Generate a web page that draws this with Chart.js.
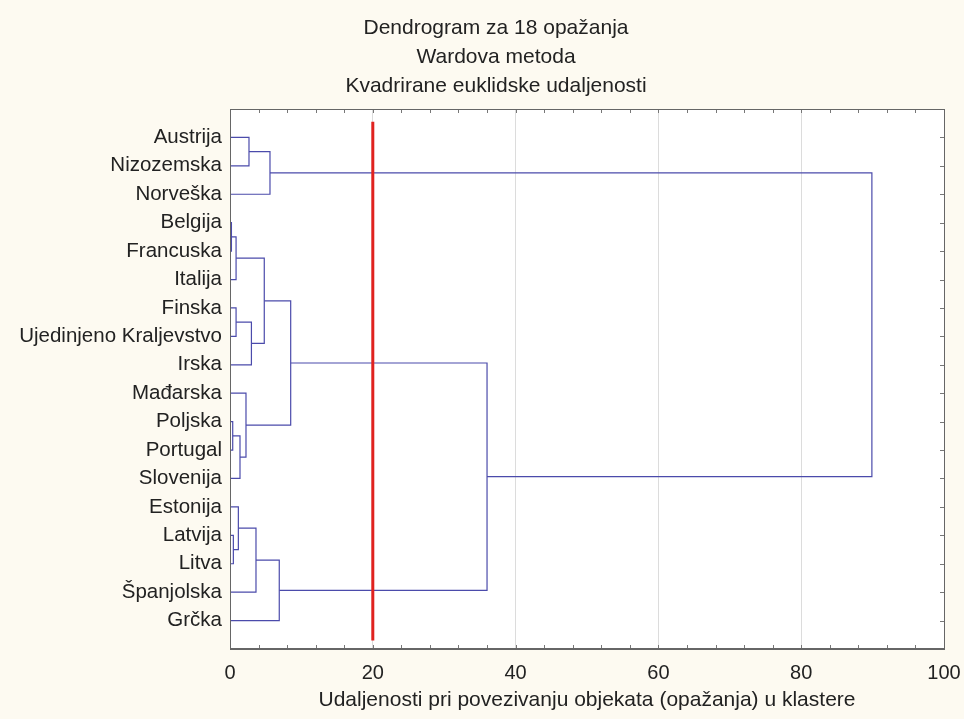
<!DOCTYPE html>
<html>
<head>
<meta charset="utf-8">
<script src="https://cdn.jsdelivr.net/npm/chart.js@4.4.0/dist/chart.umd.min.js"></script>
<style>
  body { margin: 0; background: #fdfaf1; }
  #wrap { width: 964px; height: 719px; }
</style>
</head>
<body>
<div id="wrap"><canvas id="dendroChart" width="964" height="719"></canvas></div>
<script>
const titleLines = ['Dendrogram za 18 opažanja', 'Wardova metoda', 'Kvadrirane euklidske udaljenosti'];
const axisTitle = 'Udaljenosti pri povezivanju objekata (opažanja) u klastere';

const leaves = ['Austrija', 'Nizozemska', 'Norveška', 'Belgija', 'Francuska', 'Italija',
    'Finska', 'Ujedinjeno Kraljevstvo', 'Irska', 'Mađarska', 'Poljska', 'Portugal',
    'Slovenija', 'Estonija', 'Latvija', 'Litva', 'Španjolska', 'Grčka'];

// merge steps: ids >= 18 point at earlier merges (18 = first merge, 19 = second...)
const mergeA = [3, 10, 14, 6, 18, 13, 19, 9, 0, 21, 23, 22, 26, 28, 29, 32, 30];
const mergeB = [4, 11, 15, 7, 5, 20, 12, 24, 1, 8, 16, 27, 2, 17, 25, 31, 33];
const mergeHeight = [0.2, 0.38, 0.47, 0.85, 0.85, 1.17, 1.4, 2.24, 2.66, 3.0, 3.64, 4.8, 5.6, 6.9, 8.5, 36.0, 89.9];

const xTicks = [0, 20, 40, 60, 80, 100];
const cutLevel = 20;
const cutSpan = [0.45, 18.7];

const font = '"Liberation Sans", Arial, sans-serif';
const lineColor = '#4b4bab';

// build the U-shaped links
const nodeY = leaves.map((_, i) => i + 1);
const nodeH = leaves.map(() => 0);
const links = [];
mergeHeight.forEach((h, k) => {
    const a = mergeA[k], b = mergeB[k];
    links.push([
        { x: nodeH[a], y: nodeY[a] },
        { x: h, y: nodeY[a] },
        { x: h, y: nodeY[b] },
        { x: nodeH[b], y: nodeY[b] }
    ]);
    nodeY.push((nodeY[a] + nodeY[b]) / 2);
    nodeH.push(h);
});

const datasets = [{
    data: [{ x: cutLevel, y: cutSpan[0] }, { x: cutLevel, y: cutSpan[1] }],
    borderColor: '#e0221f',
    borderWidth: 3
}];
links.forEach(pts => {
    datasets.push({ data: pts, borderColor: lineColor, borderWidth: 1.2 });
});

const framePlugin = {
    id: 'frame',
    beforeDraw(chart) {
        const { ctx, chartArea: a } = chart;
        ctx.save();
        ctx.fillStyle = '#fdfaf1';
        ctx.fillRect(0, 0, chart.width, chart.height);
        ctx.fillStyle = '#ffffff';
        ctx.fillRect(a.left, a.top, a.right - a.left, a.bottom - a.top);
        ctx.restore();
    },
    afterDraw(chart) {
        const { ctx, chartArea: a, scales } = chart;
        ctx.save();
        // inward ticks
        ctx.strokeStyle = '#777';
        ctx.lineWidth = 1;
        ctx.beginPath();
        for (let v = 4; v < 100; v += 4) {
            const x = Math.round(scales.x.getPixelForValue(v)) + 0.5;
            ctx.moveTo(x, a.bottom); ctx.lineTo(x, a.bottom - 4);
            ctx.moveTo(x, a.top); ctx.lineTo(x, a.top + 4);
        }
        leaves.forEach((_, i) => {
            const y = Math.round(scales.y.getPixelForValue(i + 1)) + 0.5;
            ctx.moveTo(a.right, y); ctx.lineTo(a.right - 4, y);
        });
        ctx.stroke();
        // frame
        ctx.strokeStyle = '#666';
        ctx.lineWidth = 1;
        ctx.strokeRect(a.left + 0.5, a.top + 0.5, a.right - a.left, a.bottom - a.top);
        ctx.lineWidth = 2;
        ctx.beginPath();
        ctx.moveTo(a.left, a.bottom); ctx.lineTo(a.right, a.bottom);
        ctx.stroke();
        // title
        ctx.fillStyle = '#222';
        ctx.font = '21px ' + font;
        ctx.textAlign = 'center';
        ctx.textBaseline = 'middle';
        titleLines.forEach((t, i) => ctx.fillText(t, 496, 28 + i * 29));
        ctx.restore();
    }
};

new Chart(document.getElementById('dendroChart'), {
    type: 'scatter',
    data: { datasets: datasets },
    options: {
        responsive: false,
        animation: false,
        showLine: true,
        elements: { point: { radius: 0 }, line: { tension: 0 } },
        layout: { padding: { top: 109, right: 20, bottom: 0, left: 0 } },
        plugins: { legend: { display: false }, tooltip: { enabled: false } },
        scales: {
            x: {
                type: 'linear',
                min: 0, max: 100,
                afterBuildTicks: s => { s.ticks = xTicks.map(v => ({ value: v })); },
                afterFit: s => { s.height = 70; s.paddingLeft = 0; s.paddingRight = 0; },
                border: { display: false },
                grid: {
                    drawTicks: false,
                    color: c => (c.tick && c.tick.value > 0 && c.tick.value < 100) ? '#dcdcdc' : 'rgba(0,0,0,0)'
                },
                ticks: { padding: 12, color: '#222', font: { size: 20, family: font } },
                title: {
                    display: true, text: axisTitle, color: '#222',
                    font: { size: 21, family: font }, padding: { top: 0, bottom: 6 }
                }
            },
            y: {
                type: 'linear',
                reverse: true,
                min: 0, max: 19,
                afterBuildTicks: s => { s.ticks = leaves.map((_, i) => ({ value: i + 1 })); },
                afterFit: s => { s.width = 230; },
                border: { display: false },
                grid: { display: false, drawTicks: false },
                ticks: {
                    autoSkip: false, padding: 8, color: '#222',
                    font: { size: 20.5, family: font },
                    callback: v => leaves[v - 1]
                }
            }
        }
    },
    plugins: [framePlugin]
});
</script>
</body>
</html>
